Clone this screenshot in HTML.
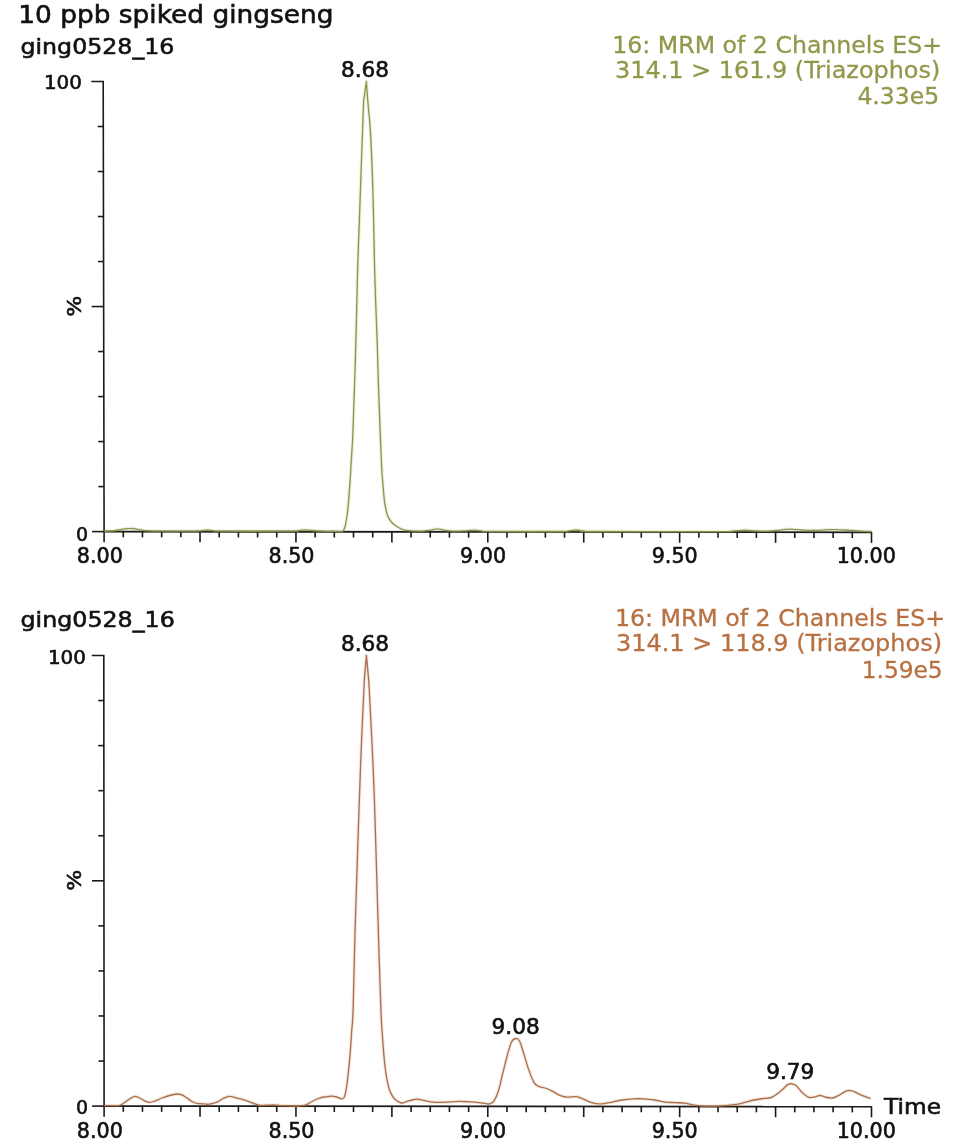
<!DOCTYPE html>
<html lang="en">
<head>
<meta charset="utf-8">
<title>10 ppb spiked gingseng</title>
<style>
html,body{margin:0;padding:0;background:#fff;}
body{width:966px;height:1148px;overflow:hidden;}
svg{display:block;font-family:"DejaVu Sans", "Liberation Sans", sans-serif;}
</style>
</head>
<body>
<svg width="966" height="1148" viewBox="0 0 966 1148">
<rect width="966" height="1148" fill="#ffffff"/>
<text x="18.2" y="23.3" font-size="25.5" text-anchor="start" fill="#111" stroke="#111" stroke-width="0.6" textLength="315.3" lengthAdjust="spacingAndGlyphs">10 ppb spiked gingseng</text>
<text x="20.5" y="53.9" font-size="22" text-anchor="start" fill="#111" stroke="#111" stroke-width="0.6" textLength="153.9" lengthAdjust="spacingAndGlyphs">ging0528_16</text>
<text x="20.5" y="626.5" font-size="22" text-anchor="start" fill="#111" stroke="#111" stroke-width="0.6" textLength="154.3" lengthAdjust="spacingAndGlyphs">ging0528_16</text>
<path d="M91.20,81.5 H103.20 L104.1,531.6" fill="none" stroke="#1a1a1a" stroke-width="1.6"/>
<path d="M92.10,531.60 H104.10" stroke="#1a1a1a" stroke-width="1.6"/>
<path d="M98.41,486.59 H104.01" stroke="#1a1a1a" stroke-width="1.6"/>
<path d="M98.32,441.58 H103.92" stroke="#1a1a1a" stroke-width="1.6"/>
<path d="M98.23,396.57 H103.83" stroke="#1a1a1a" stroke-width="1.6"/>
<path d="M98.14,351.56 H103.74" stroke="#1a1a1a" stroke-width="1.6"/>
<path d="M91.65,306.55 H103.65" stroke="#1a1a1a" stroke-width="1.6"/>
<path d="M97.96,261.54 H103.56" stroke="#1a1a1a" stroke-width="1.6"/>
<path d="M97.87,216.53 H103.47" stroke="#1a1a1a" stroke-width="1.6"/>
<path d="M97.78,171.52 H103.38" stroke="#1a1a1a" stroke-width="1.6"/>
<path d="M97.69,126.51 H103.29" stroke="#1a1a1a" stroke-width="1.6"/>
<path d="M104.1,531.6 L871.5,532.3" stroke="#1a1a1a" stroke-width="1.8"/>
<path d="M104.10,531.10 V542.20" stroke="#1a1a1a" stroke-width="1.6"/>
<path d="M123.28,531.12 V537.32" stroke="#1a1a1a" stroke-width="1.6"/>
<path d="M142.47,531.13 V537.34" stroke="#1a1a1a" stroke-width="1.6"/>
<path d="M161.65,531.15 V537.35" stroke="#1a1a1a" stroke-width="1.6"/>
<path d="M180.84,531.17 V537.37" stroke="#1a1a1a" stroke-width="1.6"/>
<path d="M200.02,531.19 V542.29" stroke="#1a1a1a" stroke-width="1.6"/>
<path d="M219.21,531.21 V537.41" stroke="#1a1a1a" stroke-width="1.6"/>
<path d="M238.40,531.22 V537.42" stroke="#1a1a1a" stroke-width="1.6"/>
<path d="M257.58,531.24 V537.44" stroke="#1a1a1a" stroke-width="1.6"/>
<path d="M276.76,531.26 V537.46" stroke="#1a1a1a" stroke-width="1.6"/>
<path d="M295.95,531.27 V542.38" stroke="#1a1a1a" stroke-width="1.6"/>
<path d="M315.13,531.29 V537.49" stroke="#1a1a1a" stroke-width="1.6"/>
<path d="M334.32,531.31 V537.51" stroke="#1a1a1a" stroke-width="1.6"/>
<path d="M353.50,531.33 V537.53" stroke="#1a1a1a" stroke-width="1.6"/>
<path d="M372.69,531.35 V537.55" stroke="#1a1a1a" stroke-width="1.6"/>
<path d="M391.88,531.36 V542.46" stroke="#1a1a1a" stroke-width="1.6"/>
<path d="M411.06,531.38 V537.58" stroke="#1a1a1a" stroke-width="1.6"/>
<path d="M430.25,531.40 V537.60" stroke="#1a1a1a" stroke-width="1.6"/>
<path d="M449.43,531.41 V537.62" stroke="#1a1a1a" stroke-width="1.6"/>
<path d="M468.62,531.43 V537.63" stroke="#1a1a1a" stroke-width="1.6"/>
<path d="M487.80,531.45 V542.55" stroke="#1a1a1a" stroke-width="1.6"/>
<path d="M506.99,531.47 V537.67" stroke="#1a1a1a" stroke-width="1.6"/>
<path d="M526.17,531.49 V537.69" stroke="#1a1a1a" stroke-width="1.6"/>
<path d="M545.36,531.50 V537.70" stroke="#1a1a1a" stroke-width="1.6"/>
<path d="M564.54,531.52 V537.72" stroke="#1a1a1a" stroke-width="1.6"/>
<path d="M583.73,531.54 V542.64" stroke="#1a1a1a" stroke-width="1.6"/>
<path d="M602.91,531.55 V537.75" stroke="#1a1a1a" stroke-width="1.6"/>
<path d="M622.10,531.57 V537.77" stroke="#1a1a1a" stroke-width="1.6"/>
<path d="M641.28,531.59 V537.79" stroke="#1a1a1a" stroke-width="1.6"/>
<path d="M660.47,531.61 V537.81" stroke="#1a1a1a" stroke-width="1.6"/>
<path d="M679.65,531.62 V542.73" stroke="#1a1a1a" stroke-width="1.6"/>
<path d="M698.83,531.64 V537.84" stroke="#1a1a1a" stroke-width="1.6"/>
<path d="M718.02,531.66 V537.86" stroke="#1a1a1a" stroke-width="1.6"/>
<path d="M737.21,531.68 V537.88" stroke="#1a1a1a" stroke-width="1.6"/>
<path d="M756.39,531.69 V537.89" stroke="#1a1a1a" stroke-width="1.6"/>
<path d="M775.58,531.71 V542.81" stroke="#1a1a1a" stroke-width="1.6"/>
<path d="M794.76,531.73 V537.93" stroke="#1a1a1a" stroke-width="1.6"/>
<path d="M813.95,531.75 V537.95" stroke="#1a1a1a" stroke-width="1.6"/>
<path d="M833.13,531.76 V537.97" stroke="#1a1a1a" stroke-width="1.6"/>
<path d="M852.31,531.78 V537.98" stroke="#1a1a1a" stroke-width="1.6"/>
<path d="M871.50,531.80 V542.90" stroke="#1a1a1a" stroke-width="1.6"/>
<text x="81.9" y="89.3" font-size="19" text-anchor="end" fill="#111" stroke="#111" stroke-width="0.6" textLength="38" lengthAdjust="spacingAndGlyphs">100</text>
<text x="88" y="540.7" font-size="19" text-anchor="end" fill="#111" stroke="#111" stroke-width="0.6">0</text>
<text transform="translate(80.7,306.3) rotate(-90)" font-size="19.8" text-anchor="middle" textLength="21" lengthAdjust="spacingAndGlyphs" fill="#111" stroke="#111" stroke-width="0.6">%</text>
<text x="99.9" y="563.3" font-size="20.7" text-anchor="middle" fill="#111" stroke="#111" stroke-width="0.6">8.00</text>
<text x="99.9" y="1137.7" font-size="20.7" text-anchor="middle" fill="#111" stroke="#111" stroke-width="0.6">8.00</text>
<text x="291.5" y="563.3" font-size="20.7" text-anchor="middle" fill="#111" stroke="#111" stroke-width="0.6">8.50</text>
<text x="291.5" y="1137.7" font-size="20.7" text-anchor="middle" fill="#111" stroke="#111" stroke-width="0.6">8.50</text>
<text x="483.1" y="563.3" font-size="20.7" text-anchor="middle" fill="#111" stroke="#111" stroke-width="0.6">9.00</text>
<text x="483.1" y="1137.7" font-size="20.7" text-anchor="middle" fill="#111" stroke="#111" stroke-width="0.6">9.00</text>
<text x="674.7" y="563.3" font-size="20.7" text-anchor="middle" fill="#111" stroke="#111" stroke-width="0.6">9.50</text>
<text x="674.7" y="1137.7" font-size="20.7" text-anchor="middle" fill="#111" stroke="#111" stroke-width="0.6">9.50</text>
<text x="866.3" y="563.3" font-size="20.7" text-anchor="middle" fill="#111" stroke="#111" stroke-width="0.6">10.00</text>
<text x="866.3" y="1137.7" font-size="20.7" text-anchor="middle" fill="#111" stroke="#111" stroke-width="0.6">10.00</text>
<text x="365" y="77.4" font-size="20.6" text-anchor="middle" fill="#111" stroke="#111" stroke-width="0.6" textLength="48.2" lengthAdjust="spacingAndGlyphs">8.68</text>
<path d="M104.1,531.1 C105.6,531.0 110.0,531.0 113.0,530.8 C116.0,530.5 119.1,529.9 122.0,529.5 C124.9,529.1 127.6,528.3 130.3,528.3 C133.0,528.2 135.4,528.9 138.0,529.3 C140.6,529.7 142.7,530.3 146.0,530.6 C149.3,530.9 149.8,531.0 158.0,531.1 C166.2,531.2 187.5,531.2 195.0,531.1 C202.5,531.0 200.8,530.7 203.0,530.5 C205.2,530.4 206.2,530.0 208.0,530.0 C209.8,530.1 211.7,530.5 214.0,530.7 C216.3,530.8 209.3,531.1 222.0,531.2 C234.7,531.3 277.2,531.3 290.0,531.2 C302.8,531.1 296.5,530.7 299.0,530.5 C301.5,530.3 302.8,529.9 305.0,529.9 C307.2,529.9 309.2,530.3 312.0,530.5 C314.8,530.8 318.0,531.1 322.0,531.2 C326.0,531.4 332.7,531.2 336.0,531.3 C339.3,531.4 340.4,531.9 341.6,531.8 C342.9,531.7 342.9,531.4 343.5,530.4 C344.1,529.4 344.7,528.4 345.3,525.7 C345.9,523.1 346.6,518.7 347.2,514.5 C347.8,510.3 348.1,506.0 348.6,500.6 C349.1,495.2 349.5,488.9 350.0,481.9 C350.5,474.9 351.0,465.6 351.4,458.6 C351.8,451.6 352.2,447.8 352.6,440.0 C353.0,432.2 353.3,421.4 353.6,412.0 C353.9,402.6 354.2,395.7 354.6,383.7 C355.0,371.7 355.5,353.9 355.9,340.0 C356.3,326.1 356.6,313.3 356.9,300.0 C357.2,286.7 357.3,280.0 357.9,260.0 C358.6,240.0 359.9,206.4 360.8,180.0 C361.7,153.6 363.1,114.5 363.6,101.4 L366.4,81.5 L367.8,101.4 C368.2,106.6 369.6,117.0 370.5,132.7 C371.4,148.4 372.4,174.2 373.0,195.4 C373.6,216.6 374.0,242.6 374.4,260.0 C374.8,277.4 375.2,286.7 375.6,300.0 C376.1,313.3 376.6,326.1 377.1,340.0 C377.6,353.9 377.8,367.0 378.4,383.7 C379.0,400.4 379.9,425.9 380.5,440.0 C381.1,454.1 381.3,460.2 381.7,468.0 C382.1,475.8 382.7,481.2 383.1,486.6 C383.6,492.0 383.9,496.9 384.4,500.6 C384.8,504.3 385.3,506.6 385.8,508.9 C386.3,511.2 386.5,512.6 387.2,514.5 C387.9,516.4 388.9,518.5 390.0,520.1 C391.1,521.7 392.2,523.0 393.8,524.3 C395.4,525.6 397.5,527.0 399.4,528.0 C401.2,529.0 403.0,529.7 404.9,530.2 C406.8,530.7 408.0,530.6 410.5,530.8 C413.0,531.0 417.3,531.2 419.9,531.2 C422.5,531.2 424.1,530.9 426.0,530.7 C427.9,530.6 429.2,530.5 431.0,530.1 C432.8,529.8 435.0,528.9 437.0,528.9 C439.0,528.8 440.8,529.6 443.0,530.0 C445.2,530.3 447.5,530.7 450.0,530.9 C452.5,531.1 455.3,531.1 458.0,531.1 C460.7,531.1 463.3,530.9 466.0,530.8 C468.7,530.6 471.7,530.1 474.4,530.1 C477.1,530.1 479.4,530.7 482.0,530.9 C484.6,531.1 477.0,531.3 490.0,531.4 C503.0,531.5 547.0,531.6 560.0,531.5 C573.0,531.4 565.3,531.1 568.0,530.9 C570.7,530.6 573.3,530.0 576.0,530.0 C578.7,530.0 581.3,530.6 584.0,530.9 C586.7,531.1 569.3,531.4 592.0,531.5 C614.7,531.6 696.7,531.7 720.0,531.6 C743.3,531.5 727.8,531.4 732.0,531.1 C736.2,530.9 740.8,530.2 745.0,530.1 C749.2,530.1 753.2,530.8 757.0,530.9 C760.8,531.1 764.2,531.2 768.0,531.1 C771.8,530.9 776.3,530.4 780.0,530.1 C783.7,529.8 786.3,529.2 790.0,529.2 C793.7,529.2 797.8,529.8 802.0,530.0 C806.2,530.2 811.0,530.5 815.0,530.5 C819.0,530.5 822.5,530.0 826.0,529.8 C829.5,529.7 832.0,529.5 836.0,529.6 C840.0,529.7 845.7,530.1 850.0,530.3 C854.3,530.6 858.4,530.9 862.0,531.1 C865.6,531.3 869.9,531.5 871.5,531.5" fill="none" stroke="#8f9448" stroke-width="3.4" stroke-opacity="0.16" stroke-linejoin="round"/>
<path d="M104.1,531.1 C105.6,531.0 110.0,531.0 113.0,530.8 C116.0,530.5 119.1,529.9 122.0,529.5 C124.9,529.1 127.6,528.3 130.3,528.3 C133.0,528.2 135.4,528.9 138.0,529.3 C140.6,529.7 142.7,530.3 146.0,530.6 C149.3,530.9 149.8,531.0 158.0,531.1 C166.2,531.2 187.5,531.2 195.0,531.1 C202.5,531.0 200.8,530.7 203.0,530.5 C205.2,530.4 206.2,530.0 208.0,530.0 C209.8,530.1 211.7,530.5 214.0,530.7 C216.3,530.8 209.3,531.1 222.0,531.2 C234.7,531.3 277.2,531.3 290.0,531.2 C302.8,531.1 296.5,530.7 299.0,530.5 C301.5,530.3 302.8,529.9 305.0,529.9 C307.2,529.9 309.2,530.3 312.0,530.5 C314.8,530.8 318.0,531.1 322.0,531.2 C326.0,531.4 332.7,531.2 336.0,531.3 C339.3,531.4 340.4,531.9 341.6,531.8 C342.9,531.7 342.9,531.4 343.5,530.4 C344.1,529.4 344.7,528.4 345.3,525.7 C345.9,523.1 346.6,518.7 347.2,514.5 C347.8,510.3 348.1,506.0 348.6,500.6 C349.1,495.2 349.5,488.9 350.0,481.9 C350.5,474.9 351.0,465.6 351.4,458.6 C351.8,451.6 352.2,447.8 352.6,440.0 C353.0,432.2 353.3,421.4 353.6,412.0 C353.9,402.6 354.2,395.7 354.6,383.7 C355.0,371.7 355.5,353.9 355.9,340.0 C356.3,326.1 356.6,313.3 356.9,300.0 C357.2,286.7 357.3,280.0 357.9,260.0 C358.6,240.0 359.9,206.4 360.8,180.0 C361.7,153.6 363.1,114.5 363.6,101.4 L366.4,81.5 L367.8,101.4 C368.2,106.6 369.6,117.0 370.5,132.7 C371.4,148.4 372.4,174.2 373.0,195.4 C373.6,216.6 374.0,242.6 374.4,260.0 C374.8,277.4 375.2,286.7 375.6,300.0 C376.1,313.3 376.6,326.1 377.1,340.0 C377.6,353.9 377.8,367.0 378.4,383.7 C379.0,400.4 379.9,425.9 380.5,440.0 C381.1,454.1 381.3,460.2 381.7,468.0 C382.1,475.8 382.7,481.2 383.1,486.6 C383.6,492.0 383.9,496.9 384.4,500.6 C384.8,504.3 385.3,506.6 385.8,508.9 C386.3,511.2 386.5,512.6 387.2,514.5 C387.9,516.4 388.9,518.5 390.0,520.1 C391.1,521.7 392.2,523.0 393.8,524.3 C395.4,525.6 397.5,527.0 399.4,528.0 C401.2,529.0 403.0,529.7 404.9,530.2 C406.8,530.7 408.0,530.6 410.5,530.8 C413.0,531.0 417.3,531.2 419.9,531.2 C422.5,531.2 424.1,530.9 426.0,530.7 C427.9,530.6 429.2,530.5 431.0,530.1 C432.8,529.8 435.0,528.9 437.0,528.9 C439.0,528.8 440.8,529.6 443.0,530.0 C445.2,530.3 447.5,530.7 450.0,530.9 C452.5,531.1 455.3,531.1 458.0,531.1 C460.7,531.1 463.3,530.9 466.0,530.8 C468.7,530.6 471.7,530.1 474.4,530.1 C477.1,530.1 479.4,530.7 482.0,530.9 C484.6,531.1 477.0,531.3 490.0,531.4 C503.0,531.5 547.0,531.6 560.0,531.5 C573.0,531.4 565.3,531.1 568.0,530.9 C570.7,530.6 573.3,530.0 576.0,530.0 C578.7,530.0 581.3,530.6 584.0,530.9 C586.7,531.1 569.3,531.4 592.0,531.5 C614.7,531.6 696.7,531.7 720.0,531.6 C743.3,531.5 727.8,531.4 732.0,531.1 C736.2,530.9 740.8,530.2 745.0,530.1 C749.2,530.1 753.2,530.8 757.0,530.9 C760.8,531.1 764.2,531.2 768.0,531.1 C771.8,530.9 776.3,530.4 780.0,530.1 C783.7,529.8 786.3,529.2 790.0,529.2 C793.7,529.2 797.8,529.8 802.0,530.0 C806.2,530.2 811.0,530.5 815.0,530.5 C819.0,530.5 822.5,530.0 826.0,529.8 C829.5,529.7 832.0,529.5 836.0,529.6 C840.0,529.7 845.7,530.1 850.0,530.3 C854.3,530.6 858.4,530.9 862.0,531.1 C865.6,531.3 869.9,531.5 871.5,531.5" fill="none" stroke="#8f9448" stroke-width="1.3" stroke-linejoin="round"/>
<text x="942" y="52.7" font-size="22.5" text-anchor="end" fill="#92974a" stroke="#92974a" stroke-width="0.3" textLength="329.7" lengthAdjust="spacingAndGlyphs">16: MRM of 2 Channels ES+</text>
<text x="940.3" y="77.5" font-size="22.5" text-anchor="end" fill="#92974a" stroke="#92974a" stroke-width="0.3" textLength="325.2" lengthAdjust="spacingAndGlyphs">314.1 &gt; 161.9 (Triazophos)</text>
<text x="939.2" y="103.5" font-size="22.5" text-anchor="end" fill="#92974a" stroke="#92974a" stroke-width="0.3" textLength="81.8" lengthAdjust="spacingAndGlyphs">4.33e5</text>
<path d="M91.80,655.5 H103.80 L104.1,1106.1" fill="none" stroke="#1a1a1a" stroke-width="1.6"/>
<path d="M92.10,1106.10 H104.10" stroke="#1a1a1a" stroke-width="1.6"/>
<path d="M98.47,1061.04 H104.07" stroke="#1a1a1a" stroke-width="1.6"/>
<path d="M98.44,1015.98 H104.04" stroke="#1a1a1a" stroke-width="1.6"/>
<path d="M98.41,970.92 H104.01" stroke="#1a1a1a" stroke-width="1.6"/>
<path d="M98.38,925.86 H103.98" stroke="#1a1a1a" stroke-width="1.6"/>
<path d="M91.95,880.80 H103.95" stroke="#1a1a1a" stroke-width="1.6"/>
<path d="M98.32,835.74 H103.92" stroke="#1a1a1a" stroke-width="1.6"/>
<path d="M98.29,790.68 H103.89" stroke="#1a1a1a" stroke-width="1.6"/>
<path d="M98.26,745.62 H103.86" stroke="#1a1a1a" stroke-width="1.6"/>
<path d="M98.23,700.56 H103.83" stroke="#1a1a1a" stroke-width="1.6"/>
<path d="M104.1,1106.1 L871.5,1106.7" stroke="#1a1a1a" stroke-width="1.8"/>
<path d="M104.10,1105.60 V1116.70" stroke="#1a1a1a" stroke-width="1.6"/>
<path d="M123.28,1105.62 V1111.82" stroke="#1a1a1a" stroke-width="1.6"/>
<path d="M142.47,1105.63 V1111.83" stroke="#1a1a1a" stroke-width="1.6"/>
<path d="M161.65,1105.64 V1111.85" stroke="#1a1a1a" stroke-width="1.6"/>
<path d="M180.84,1105.66 V1111.86" stroke="#1a1a1a" stroke-width="1.6"/>
<path d="M200.02,1105.67 V1116.77" stroke="#1a1a1a" stroke-width="1.6"/>
<path d="M219.21,1105.69 V1111.89" stroke="#1a1a1a" stroke-width="1.6"/>
<path d="M238.40,1105.70 V1111.90" stroke="#1a1a1a" stroke-width="1.6"/>
<path d="M257.58,1105.72 V1111.92" stroke="#1a1a1a" stroke-width="1.6"/>
<path d="M276.76,1105.73 V1111.93" stroke="#1a1a1a" stroke-width="1.6"/>
<path d="M295.95,1105.75 V1116.85" stroke="#1a1a1a" stroke-width="1.6"/>
<path d="M315.13,1105.76 V1111.96" stroke="#1a1a1a" stroke-width="1.6"/>
<path d="M334.32,1105.78 V1111.98" stroke="#1a1a1a" stroke-width="1.6"/>
<path d="M353.50,1105.79 V1111.99" stroke="#1a1a1a" stroke-width="1.6"/>
<path d="M372.69,1105.81 V1112.01" stroke="#1a1a1a" stroke-width="1.6"/>
<path d="M391.88,1105.83 V1116.92" stroke="#1a1a1a" stroke-width="1.6"/>
<path d="M411.06,1105.84 V1112.04" stroke="#1a1a1a" stroke-width="1.6"/>
<path d="M430.25,1105.86 V1112.06" stroke="#1a1a1a" stroke-width="1.6"/>
<path d="M449.43,1105.87 V1112.07" stroke="#1a1a1a" stroke-width="1.6"/>
<path d="M468.62,1105.88 V1112.09" stroke="#1a1a1a" stroke-width="1.6"/>
<path d="M487.80,1105.90 V1117.00" stroke="#1a1a1a" stroke-width="1.6"/>
<path d="M506.99,1105.91 V1112.12" stroke="#1a1a1a" stroke-width="1.6"/>
<path d="M526.17,1105.93 V1112.13" stroke="#1a1a1a" stroke-width="1.6"/>
<path d="M545.36,1105.94 V1112.14" stroke="#1a1a1a" stroke-width="1.6"/>
<path d="M564.54,1105.96 V1112.16" stroke="#1a1a1a" stroke-width="1.6"/>
<path d="M583.73,1105.97 V1117.07" stroke="#1a1a1a" stroke-width="1.6"/>
<path d="M602.91,1105.99 V1112.19" stroke="#1a1a1a" stroke-width="1.6"/>
<path d="M622.10,1106.01 V1112.21" stroke="#1a1a1a" stroke-width="1.6"/>
<path d="M641.28,1106.02 V1112.22" stroke="#1a1a1a" stroke-width="1.6"/>
<path d="M660.47,1106.04 V1112.24" stroke="#1a1a1a" stroke-width="1.6"/>
<path d="M679.65,1106.05 V1117.15" stroke="#1a1a1a" stroke-width="1.6"/>
<path d="M698.83,1106.07 V1112.27" stroke="#1a1a1a" stroke-width="1.6"/>
<path d="M718.02,1106.08 V1112.28" stroke="#1a1a1a" stroke-width="1.6"/>
<path d="M737.21,1106.10 V1112.30" stroke="#1a1a1a" stroke-width="1.6"/>
<path d="M756.39,1106.11 V1112.31" stroke="#1a1a1a" stroke-width="1.6"/>
<path d="M775.58,1106.12 V1117.22" stroke="#1a1a1a" stroke-width="1.6"/>
<path d="M794.76,1106.14 V1112.34" stroke="#1a1a1a" stroke-width="1.6"/>
<path d="M813.95,1106.15 V1112.36" stroke="#1a1a1a" stroke-width="1.6"/>
<path d="M833.13,1106.17 V1112.37" stroke="#1a1a1a" stroke-width="1.6"/>
<path d="M852.31,1106.18 V1112.38" stroke="#1a1a1a" stroke-width="1.6"/>
<path d="M871.50,1106.20 V1117.30" stroke="#1a1a1a" stroke-width="1.6"/>
<text x="85.9" y="664.2" font-size="19" text-anchor="end" fill="#111" stroke="#111" stroke-width="0.6" textLength="38" lengthAdjust="spacingAndGlyphs">100</text>
<text x="88" y="1114.3" font-size="19" text-anchor="end" fill="#111" stroke="#111" stroke-width="0.6">0</text>
<text transform="translate(80.7,880.3) rotate(-90)" font-size="19.8" text-anchor="middle" textLength="21" lengthAdjust="spacingAndGlyphs" fill="#111" stroke="#111" stroke-width="0.6">%</text>
<text x="365" y="651.0" font-size="20.6" text-anchor="middle" fill="#111" stroke="#111" stroke-width="0.6" textLength="48.2" lengthAdjust="spacingAndGlyphs">8.68</text>
<text x="515.7" y="1033.7" font-size="20.6" text-anchor="middle" fill="#111" stroke="#111" stroke-width="0.6" textLength="48.2" lengthAdjust="spacingAndGlyphs">9.08</text>
<text x="790.3" y="1079.1" font-size="20.6" text-anchor="middle" fill="#111" stroke="#111" stroke-width="0.6" textLength="48.2" lengthAdjust="spacingAndGlyphs">9.79</text>
<text x="884" y="1113.9" font-size="22" text-anchor="start" fill="#111" stroke="#111" stroke-width="0.6" textLength="57" lengthAdjust="spacingAndGlyphs">Time</text>
<path d="M104.1,1105.7 C105.4,1105.7 109.4,1105.6 112.0,1105.6 C114.6,1105.5 117.2,1106.2 119.8,1105.4 C122.3,1104.6 125.2,1101.8 127.3,1100.5 C129.4,1099.2 130.9,1098.1 132.2,1097.4 C133.5,1096.7 134.1,1096.3 135.3,1096.4 C136.6,1096.5 138.1,1097.2 139.7,1098.0 C141.3,1098.8 143.0,1100.2 144.7,1100.9 C146.3,1101.6 147.9,1102.4 149.6,1102.4 C151.2,1102.4 152.5,1101.8 154.6,1101.1 C156.7,1100.4 159.5,1098.9 162.0,1098.0 C164.5,1097.1 167.0,1096.2 169.5,1095.5 C172.0,1094.8 174.9,1094.1 177.0,1094.0 C179.1,1093.9 180.2,1094.2 181.9,1094.9 C183.6,1095.6 185.2,1096.9 186.9,1098.0 C188.6,1099.1 190.2,1100.5 191.9,1101.4 C193.6,1102.3 194.7,1103.0 196.8,1103.4 C198.9,1103.8 202.2,1103.8 204.3,1103.9 C206.4,1104.0 207.2,1104.5 209.3,1104.2 C211.4,1103.9 214.5,1103.2 216.8,1102.2 C219.1,1101.2 220.9,1099.5 223.0,1098.5 C225.1,1097.5 227.0,1096.4 229.2,1096.3 C231.4,1096.2 233.5,1097.2 236.0,1097.8 C238.5,1098.4 241.4,1099.0 244.1,1099.8 C246.8,1100.6 249.5,1101.9 252.0,1102.8 C254.5,1103.7 256.7,1104.8 259.0,1105.2 C261.3,1105.6 263.5,1105.2 266.0,1105.2 C268.5,1105.2 271.1,1104.9 273.9,1105.0 C276.7,1105.1 279.7,1105.4 283.0,1105.6 C286.3,1105.8 291.0,1106.0 293.8,1106.0 C296.6,1106.0 297.9,1106.0 300.0,1105.8 C302.1,1105.6 304.2,1105.5 306.2,1104.8 C308.2,1104.1 309.9,1102.5 312.0,1101.5 C314.1,1100.5 316.6,1099.2 318.6,1098.5 C320.6,1097.8 322.3,1097.3 324.0,1097.0 C325.7,1096.7 327.4,1096.6 328.6,1096.5 C329.8,1096.4 329.9,1096.1 331.2,1096.2 C332.5,1096.3 334.7,1096.6 336.4,1097.0 C338.1,1097.4 340.2,1098.7 341.5,1098.8 C342.8,1098.9 343.4,1098.7 344.1,1097.5 C344.8,1096.3 345.2,1094.3 345.7,1091.8 C346.2,1089.3 346.7,1086.5 347.2,1082.5 C347.7,1078.5 348.3,1073.2 348.8,1068.0 C349.3,1062.8 349.8,1057.6 350.3,1051.4 C350.8,1045.2 351.2,1037.6 351.7,1030.7 C352.2,1023.8 352.5,1026.8 353.1,1010.0 C353.7,993.2 354.3,957.5 355.1,930.0 C355.9,902.5 356.8,874.2 357.8,845.0 C358.8,815.8 359.9,782.2 361.0,754.5 C362.1,726.8 363.8,691.6 364.4,679.0 L366.4,655.4 L368.8,681.4 C369.3,690.7 370.8,719.1 371.7,737.1 C372.6,755.1 373.3,771.4 374.0,789.4 C374.7,807.4 375.1,821.6 375.8,845.0 C376.5,868.4 377.5,902.5 378.3,930.0 C379.1,957.5 380.2,992.4 380.9,1010.0 C381.6,1027.7 381.9,1028.1 382.4,1035.9 C382.9,1043.7 383.5,1050.9 384.0,1056.6 C384.5,1062.3 385.0,1066.0 385.5,1070.0 C386.0,1074.0 386.5,1077.3 387.1,1080.4 C387.7,1083.5 388.2,1086.1 389.1,1088.7 C390.0,1091.3 391.1,1093.9 392.3,1095.9 C393.5,1097.9 395.0,1099.5 396.4,1100.6 C397.8,1101.7 399.4,1102.3 400.5,1102.7 C401.6,1103.1 401.7,1103.2 403.1,1102.9 C404.5,1102.6 407.0,1101.5 408.8,1100.9 C410.6,1100.3 412.6,1099.8 414.0,1099.5 C415.4,1099.2 415.7,1099.1 417.1,1099.2 C418.5,1099.3 420.1,1099.7 422.3,1100.1 C424.5,1100.5 426.9,1101.4 430.4,1101.8 C433.9,1102.2 438.8,1102.5 443.5,1102.4 C448.2,1102.3 454.0,1101.5 458.4,1101.4 C462.8,1101.3 466.6,1101.7 470.0,1101.9 C473.4,1102.1 476.0,1102.3 478.7,1102.6 C481.4,1102.9 484.2,1103.4 486.0,1103.6 C487.8,1103.8 488.3,1104.3 489.6,1103.9 C490.9,1103.5 492.4,1103.2 493.9,1101.1 C495.3,1099.0 496.9,1095.8 498.3,1091.3 C499.8,1086.8 501.2,1079.7 502.6,1073.9 C504.1,1068.1 505.6,1061.8 507.0,1056.5 C508.4,1051.2 509.9,1045.4 511.3,1042.4 C512.8,1039.4 514.3,1038.7 515.7,1038.5 C517.1,1038.3 518.3,1039.0 519.6,1041.3 C520.9,1043.6 521.8,1047.5 523.3,1052.2 C524.8,1056.9 526.9,1064.5 528.7,1069.6 C530.5,1074.7 532.5,1079.8 534.1,1082.6 C535.7,1085.4 536.7,1085.4 538.5,1086.3 C540.3,1087.2 542.6,1087.2 545.0,1088.0 C547.4,1088.8 550.2,1090.1 552.6,1091.3 C555.0,1092.5 556.9,1094.0 559.1,1095.0 C561.3,1096.0 562.8,1096.7 565.7,1097.0 C568.6,1097.3 573.6,1096.4 576.5,1096.7 C579.4,1097.0 580.5,1097.9 583.0,1098.9 C585.5,1099.9 589.0,1101.8 591.7,1102.6 C594.4,1103.4 596.4,1103.9 599.3,1103.9 C602.2,1103.9 605.3,1103.2 609.1,1102.6 C612.9,1101.9 618.2,1100.6 622.2,1100.0 C626.2,1099.4 629.4,1099.1 633.0,1098.9 C636.6,1098.7 640.3,1098.7 643.9,1098.9 C647.5,1099.1 651.2,1099.5 654.8,1100.0 C658.4,1100.5 662.3,1101.8 665.7,1102.2 C669.1,1102.6 671.9,1102.4 675.0,1102.6 C678.1,1102.8 681.5,1102.8 684.5,1103.2 C687.5,1103.6 690.1,1104.3 693.0,1104.8 C695.9,1105.3 697.5,1105.8 701.9,1106.0 C706.3,1106.2 713.5,1106.3 719.3,1106.0 C725.1,1105.7 732.4,1104.9 736.7,1104.3 C741.0,1103.7 742.1,1103.0 745.0,1102.3 C747.9,1101.6 751.1,1100.6 754.1,1100.0 C757.1,1099.4 760.1,1098.9 763.0,1098.5 C765.9,1098.1 768.5,1098.6 771.4,1097.4 C774.2,1096.2 777.4,1093.7 780.1,1091.6 C782.8,1089.5 785.5,1086.2 787.4,1084.9 C789.3,1083.6 790.2,1083.7 791.7,1083.8 C793.2,1083.9 794.4,1084.1 796.1,1085.5 C797.8,1086.9 799.7,1090.2 801.9,1092.2 C804.1,1094.2 806.9,1096.6 809.1,1097.4 C811.3,1098.2 813.1,1097.1 814.9,1096.8 C816.7,1096.5 818.4,1095.4 820.1,1095.4 C821.8,1095.5 823.1,1096.7 825.1,1097.1 C827.1,1097.5 830.1,1098.2 832.3,1098.0 C834.5,1097.8 835.9,1096.8 838.1,1095.7 C840.3,1094.6 843.5,1092.2 845.4,1091.3 C847.3,1090.4 848.2,1090.4 849.7,1090.4 C851.2,1090.5 852.2,1090.8 854.1,1091.6 C856.0,1092.4 858.6,1093.9 861.3,1095.1 C864.0,1096.3 869.0,1098.0 870.5,1098.6" fill="none" stroke="#ad6e48" stroke-width="3.4" stroke-opacity="0.16" stroke-linejoin="round"/>
<path d="M104.1,1105.7 C105.4,1105.7 109.4,1105.6 112.0,1105.6 C114.6,1105.5 117.2,1106.2 119.8,1105.4 C122.3,1104.6 125.2,1101.8 127.3,1100.5 C129.4,1099.2 130.9,1098.1 132.2,1097.4 C133.5,1096.7 134.1,1096.3 135.3,1096.4 C136.6,1096.5 138.1,1097.2 139.7,1098.0 C141.3,1098.8 143.0,1100.2 144.7,1100.9 C146.3,1101.6 147.9,1102.4 149.6,1102.4 C151.2,1102.4 152.5,1101.8 154.6,1101.1 C156.7,1100.4 159.5,1098.9 162.0,1098.0 C164.5,1097.1 167.0,1096.2 169.5,1095.5 C172.0,1094.8 174.9,1094.1 177.0,1094.0 C179.1,1093.9 180.2,1094.2 181.9,1094.9 C183.6,1095.6 185.2,1096.9 186.9,1098.0 C188.6,1099.1 190.2,1100.5 191.9,1101.4 C193.6,1102.3 194.7,1103.0 196.8,1103.4 C198.9,1103.8 202.2,1103.8 204.3,1103.9 C206.4,1104.0 207.2,1104.5 209.3,1104.2 C211.4,1103.9 214.5,1103.2 216.8,1102.2 C219.1,1101.2 220.9,1099.5 223.0,1098.5 C225.1,1097.5 227.0,1096.4 229.2,1096.3 C231.4,1096.2 233.5,1097.2 236.0,1097.8 C238.5,1098.4 241.4,1099.0 244.1,1099.8 C246.8,1100.6 249.5,1101.9 252.0,1102.8 C254.5,1103.7 256.7,1104.8 259.0,1105.2 C261.3,1105.6 263.5,1105.2 266.0,1105.2 C268.5,1105.2 271.1,1104.9 273.9,1105.0 C276.7,1105.1 279.7,1105.4 283.0,1105.6 C286.3,1105.8 291.0,1106.0 293.8,1106.0 C296.6,1106.0 297.9,1106.0 300.0,1105.8 C302.1,1105.6 304.2,1105.5 306.2,1104.8 C308.2,1104.1 309.9,1102.5 312.0,1101.5 C314.1,1100.5 316.6,1099.2 318.6,1098.5 C320.6,1097.8 322.3,1097.3 324.0,1097.0 C325.7,1096.7 327.4,1096.6 328.6,1096.5 C329.8,1096.4 329.9,1096.1 331.2,1096.2 C332.5,1096.3 334.7,1096.6 336.4,1097.0 C338.1,1097.4 340.2,1098.7 341.5,1098.8 C342.8,1098.9 343.4,1098.7 344.1,1097.5 C344.8,1096.3 345.2,1094.3 345.7,1091.8 C346.2,1089.3 346.7,1086.5 347.2,1082.5 C347.7,1078.5 348.3,1073.2 348.8,1068.0 C349.3,1062.8 349.8,1057.6 350.3,1051.4 C350.8,1045.2 351.2,1037.6 351.7,1030.7 C352.2,1023.8 352.5,1026.8 353.1,1010.0 C353.7,993.2 354.3,957.5 355.1,930.0 C355.9,902.5 356.8,874.2 357.8,845.0 C358.8,815.8 359.9,782.2 361.0,754.5 C362.1,726.8 363.8,691.6 364.4,679.0 L366.4,655.4 L368.8,681.4 C369.3,690.7 370.8,719.1 371.7,737.1 C372.6,755.1 373.3,771.4 374.0,789.4 C374.7,807.4 375.1,821.6 375.8,845.0 C376.5,868.4 377.5,902.5 378.3,930.0 C379.1,957.5 380.2,992.4 380.9,1010.0 C381.6,1027.7 381.9,1028.1 382.4,1035.9 C382.9,1043.7 383.5,1050.9 384.0,1056.6 C384.5,1062.3 385.0,1066.0 385.5,1070.0 C386.0,1074.0 386.5,1077.3 387.1,1080.4 C387.7,1083.5 388.2,1086.1 389.1,1088.7 C390.0,1091.3 391.1,1093.9 392.3,1095.9 C393.5,1097.9 395.0,1099.5 396.4,1100.6 C397.8,1101.7 399.4,1102.3 400.5,1102.7 C401.6,1103.1 401.7,1103.2 403.1,1102.9 C404.5,1102.6 407.0,1101.5 408.8,1100.9 C410.6,1100.3 412.6,1099.8 414.0,1099.5 C415.4,1099.2 415.7,1099.1 417.1,1099.2 C418.5,1099.3 420.1,1099.7 422.3,1100.1 C424.5,1100.5 426.9,1101.4 430.4,1101.8 C433.9,1102.2 438.8,1102.5 443.5,1102.4 C448.2,1102.3 454.0,1101.5 458.4,1101.4 C462.8,1101.3 466.6,1101.7 470.0,1101.9 C473.4,1102.1 476.0,1102.3 478.7,1102.6 C481.4,1102.9 484.2,1103.4 486.0,1103.6 C487.8,1103.8 488.3,1104.3 489.6,1103.9 C490.9,1103.5 492.4,1103.2 493.9,1101.1 C495.3,1099.0 496.9,1095.8 498.3,1091.3 C499.8,1086.8 501.2,1079.7 502.6,1073.9 C504.1,1068.1 505.6,1061.8 507.0,1056.5 C508.4,1051.2 509.9,1045.4 511.3,1042.4 C512.8,1039.4 514.3,1038.7 515.7,1038.5 C517.1,1038.3 518.3,1039.0 519.6,1041.3 C520.9,1043.6 521.8,1047.5 523.3,1052.2 C524.8,1056.9 526.9,1064.5 528.7,1069.6 C530.5,1074.7 532.5,1079.8 534.1,1082.6 C535.7,1085.4 536.7,1085.4 538.5,1086.3 C540.3,1087.2 542.6,1087.2 545.0,1088.0 C547.4,1088.8 550.2,1090.1 552.6,1091.3 C555.0,1092.5 556.9,1094.0 559.1,1095.0 C561.3,1096.0 562.8,1096.7 565.7,1097.0 C568.6,1097.3 573.6,1096.4 576.5,1096.7 C579.4,1097.0 580.5,1097.9 583.0,1098.9 C585.5,1099.9 589.0,1101.8 591.7,1102.6 C594.4,1103.4 596.4,1103.9 599.3,1103.9 C602.2,1103.9 605.3,1103.2 609.1,1102.6 C612.9,1101.9 618.2,1100.6 622.2,1100.0 C626.2,1099.4 629.4,1099.1 633.0,1098.9 C636.6,1098.7 640.3,1098.7 643.9,1098.9 C647.5,1099.1 651.2,1099.5 654.8,1100.0 C658.4,1100.5 662.3,1101.8 665.7,1102.2 C669.1,1102.6 671.9,1102.4 675.0,1102.6 C678.1,1102.8 681.5,1102.8 684.5,1103.2 C687.5,1103.6 690.1,1104.3 693.0,1104.8 C695.9,1105.3 697.5,1105.8 701.9,1106.0 C706.3,1106.2 713.5,1106.3 719.3,1106.0 C725.1,1105.7 732.4,1104.9 736.7,1104.3 C741.0,1103.7 742.1,1103.0 745.0,1102.3 C747.9,1101.6 751.1,1100.6 754.1,1100.0 C757.1,1099.4 760.1,1098.9 763.0,1098.5 C765.9,1098.1 768.5,1098.6 771.4,1097.4 C774.2,1096.2 777.4,1093.7 780.1,1091.6 C782.8,1089.5 785.5,1086.2 787.4,1084.9 C789.3,1083.6 790.2,1083.7 791.7,1083.8 C793.2,1083.9 794.4,1084.1 796.1,1085.5 C797.8,1086.9 799.7,1090.2 801.9,1092.2 C804.1,1094.2 806.9,1096.6 809.1,1097.4 C811.3,1098.2 813.1,1097.1 814.9,1096.8 C816.7,1096.5 818.4,1095.4 820.1,1095.4 C821.8,1095.5 823.1,1096.7 825.1,1097.1 C827.1,1097.5 830.1,1098.2 832.3,1098.0 C834.5,1097.8 835.9,1096.8 838.1,1095.7 C840.3,1094.6 843.5,1092.2 845.4,1091.3 C847.3,1090.4 848.2,1090.4 849.7,1090.4 C851.2,1090.5 852.2,1090.8 854.1,1091.6 C856.0,1092.4 858.6,1093.9 861.3,1095.1 C864.0,1096.3 869.0,1098.0 870.5,1098.6" fill="none" stroke="#ad6e48" stroke-width="1.3" stroke-linejoin="round"/>
<text x="945" y="626.1" font-size="22.5" text-anchor="end" fill="#b87040" stroke="#b87040" stroke-width="0.3" textLength="330.1" lengthAdjust="spacingAndGlyphs">16: MRM of 2 Channels ES+</text>
<text x="942" y="650.9" font-size="22.5" text-anchor="end" fill="#b87040" stroke="#b87040" stroke-width="0.3" textLength="326.0" lengthAdjust="spacingAndGlyphs">314.1 &gt; 118.9 (Triazophos)</text>
<text x="942.7" y="677.9" font-size="22.5" text-anchor="end" fill="#b87040" stroke="#b87040" stroke-width="0.3" textLength="81.0" lengthAdjust="spacingAndGlyphs">1.59e5</text>
</svg>
</body>
</html>
